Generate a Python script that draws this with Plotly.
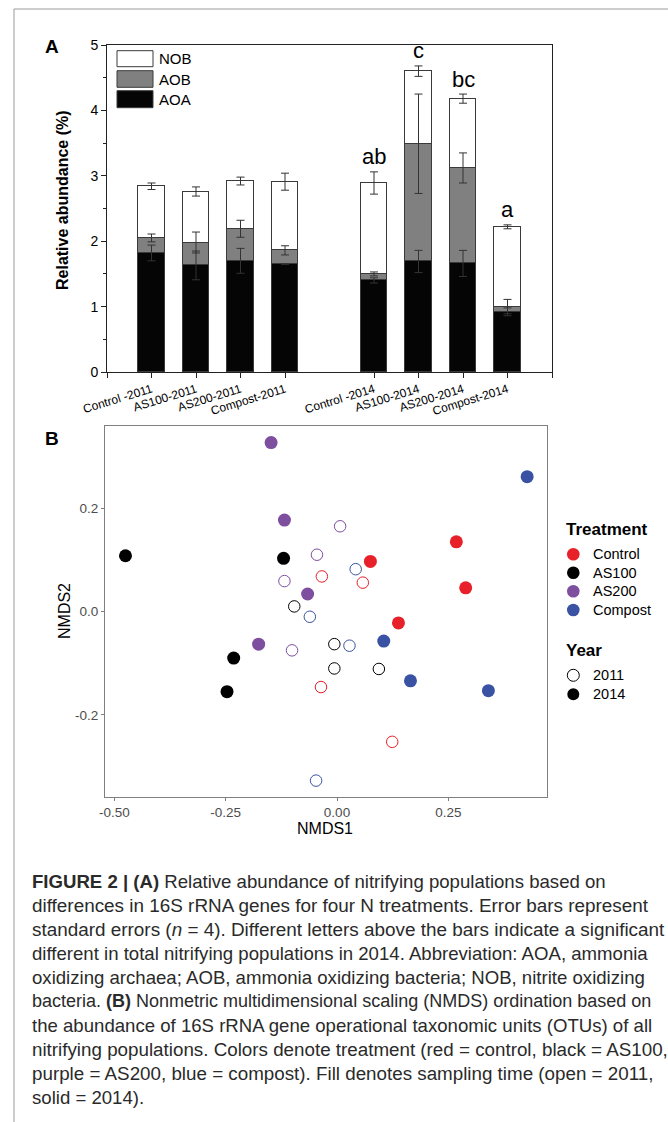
import plotly.graph_objects as go

# ---------------- Panel A data ----------------
categories = ["Control -2011", "AS100-2011", "AS200-2011", "Compost-2011",
              "Control -2014", "AS100-2014", "AS200-2014", "Compost-2014"]
cat_pos = [1, 2, 3, 4, 6, 7, 8, 9]
aoa = [1.82, 1.63, 1.70, 1.65, 1.40, 1.69, 1.66, 0.92]
aob = [0.23, 0.35, 0.49, 0.21, 0.10, 1.80, 1.46, 0.08]
nob = [0.79, 0.78, 0.73, 1.05, 1.39, 1.11, 1.06, 1.22]
aoa_err = [0.12, 0.22, 0.19, 0.00, 0.04, 0.17, 0.20, 0.06]
aob_err = [0.06, 0.16, 0.13, 0.07, 0.03, 0.76, 0.23, 0.11]
nob_err = [0.05, 0.07, 0.06, 0.13, 0.17, 0.08, 0.07, 0.03]
letters = ["", "", "", "", "ab", "c", "bc", "a"]

# ---------------- Panel B data ----------------
nmds_treatment = (["Control"] * 8 + ["AS100"] * 8 + ["AS200"] * 8 + ["Compost"] * 8)
nmds_year = ([2011] * 4 + [2014] * 4) * 4
nmds1 = [-0.034, 0.058, -0.036, 0.124, 0.075, 0.268, 0.289, 0.138,
         -0.096, -0.006, -0.006, 0.094, -0.475, -0.120, -0.232, -0.247,
         0.007, -0.045, -0.118, -0.101, -0.148, -0.118, -0.066, -0.176,
         0.042, -0.061, 0.028, -0.047, 0.427, 0.105, 0.165, 0.340]
nmds2 = [0.068, 0.056, -0.146, -0.252, 0.097, 0.135, 0.046, -0.022,
         0.010, -0.063, -0.110, -0.111, 0.108, 0.103, -0.090, -0.155,
         0.165, 0.110, 0.059, -0.075, 0.327, 0.177, 0.034, -0.063,
         0.082, -0.010, -0.066, -0.327, 0.261, -0.057, -0.134, -0.153]
treatments = ["Control", "AS100", "AS200", "Compost"]
years = [2011, 2014]
treat_colors = {"Control": "#E8202A", "AS100": "#000000",
                "AS200": "#7E4E9F", "Compost": "#3A52A3"}

caption_lines = [
    "<b>FIGURE 2 | (A)</b> Relative abundance of nitrifying populations based on",
    "differences in 16S rRNA genes for four N treatments. Error bars represent",
    "standard errors (<i>n</i> = 4). Different letters above the bars indicate a significant",
    "different in total nitrifying populations in 2014. Abbreviation: AOA, ammonia",
    "oxidizing archaea; AOB, ammonia oxidizing bacteria; NOB, nitrite oxidizing",
    "bacteria. <b>(B)</b> Nonmetric multidimensional scaling (NMDS) ordination based on",
    "the abundance of 16S rRNA gene operational taxonomic units (OTUs) of all",
    "nitrifying populations. Colors denote treatment (red = control, black = AS100,",
    "purple = AS200, blue = compost). Fill denotes sampling time (open = 2011,",
    "solid = 2014).",
]
# per-line font size (styling) so each line fits the page like the reference
caption_sizes = [18.6, 18.9, 18.9, 18.6, 18.6, 18.0, 18.6, 18.8, 18.8, 18.6]

W, H = 668, 1122
def PX(px):
    return px / W
def PY(py):
    return 1 - py / H

FONT = "Liberation Sans, Arial, sans-serif"
fig = go.Figure()

# ---- stacked bars ----
edge = dict(color="#3a3a3a", width=1)
fig.add_trace(go.Bar(x=cat_pos, y=aoa, width=0.6, marker=dict(color="#050505", line=edge),
                     name="AOA", xaxis="x", yaxis="y", showlegend=False))
fig.add_trace(go.Bar(x=cat_pos, y=aob, width=0.6, marker=dict(color="#808080", line=edge),
                     name="AOB", xaxis="x", yaxis="y", showlegend=False))
fig.add_trace(go.Bar(x=cat_pos, y=nob, width=0.6, marker=dict(color="#ffffff", line=edge),
                     name="NOB", xaxis="x", yaxis="y", showlegend=False))

cum1 = aoa
cum2 = [a + b for a, b in zip(aoa, aob)]
cum3 = [a + b + c for a, b, c in zip(aoa, aob, nob)]
for tops, errs in [(cum1, aoa_err), (cum2, aob_err), (cum3, nob_err)]:
    fig.add_trace(go.Scatter(
        x=cat_pos, y=tops, mode="markers", marker=dict(opacity=0, size=1),
        error_y=dict(type="data", array=errs, visible=True, color="#333333",
                     thickness=1, width=4),
        xaxis="x", yaxis="y", showlegend=False, hoverinfo="skip"))

# ---- NMDS scatter ----
for t in treatments:
    for yr in years:
        xs = [x for x, tt, yy in zip(nmds1, nmds_treatment, nmds_year) if tt == t and yy == yr]
        ys = [y for y, tt, yy in zip(nmds2, nmds_treatment, nmds_year) if tt == t and yy == yr]
        col = treat_colors[t]
        if yr == 2014:
            mk = dict(symbol="circle", size=13, color=col, line=dict(width=0))
        else:
            mk = dict(symbol="circle", size=11.5, color="rgba(255,255,255,0)",
                      line=dict(color=col, width=1))
        fig.add_trace(go.Scatter(x=xs, y=ys, mode="markers", marker=mk,
                                 xaxis="x2", yaxis="y2", showlegend=False,
                                 name=f"{t} {yr}"))

annotations = []
shapes = []

def ann(x, y, text, size, xanchor="center", yanchor="middle", angle=0, color="#000"):
    annotations.append(dict(x=PX(x), y=PY(y), xref="paper", yref="paper", text=text,
                            showarrow=False, xanchor=xanchor, yanchor=yanchor,
                            textangle=angle,
                            font=dict(size=size, color=color, family=FONT)))

# letters above 2014 bars
for xp, top, e, lab in zip(cat_pos, cum3, nob_err, letters):
    if lab:
        annotations.append(dict(x=xp, y=top + e, xref="x", yref="y", text=lab,
                                showarrow=False, xanchor="center", yanchor="middle",
                                yshift=15, font=dict(size=22, color="#000", family=FONT)))

# panel A legend
leg_rows = [("NOB", "#ffffff", 50.7, 66.7), ("AOB", "#808080", 70.7, 87.3),
            ("AOA", "#050505", 90.7, 107.7)]
for lab, col, y0, y1 in leg_rows:
    shapes.append(dict(type="rect", xref="paper", yref="paper",
                       x0=PX(117), x1=PX(153), y0=PY(y1), y1=PY(y0),
                       fillcolor=col, line=dict(color="#3a3a3a", width=1)))
    ann(157, (y0 + y1) / 2, lab, 15, xanchor="left")

# panel labels
ann(52, 47, "<b>A</b>", 19)
ann(52, 438, "<b>B</b>", 19)

# axis titles
ann(63, 200, "<b>Relative abundance (%)</b>", 16, angle=-90)
ann(325, 828, "NMDS1", 16)
ann(64, 611, "NMDS2", 16, angle=-90)

# panel B legend
ann(564, 529, "<b>Treatment</b>", 17, xanchor="left")
for t, yc in zip(treatments, [554.3, 572.7, 591.3, 610]):
    shapes.append(dict(type="circle", xref="paper", yref="paper",
                       xsizemode="pixel", ysizemode="pixel",
                       xanchor=PX(573.3), yanchor=PY(yc),
                       x0=-6.3, x1=6.3, y0=-6.3, y1=6.3,
                       fillcolor=treat_colors[t], line=dict(width=0)))
    ann(591, yc, t, 14.5, xanchor="left")
ann(564, 650, "<b>Year</b>", 17, xanchor="left")
for yr, yc in zip(years, [675.3, 694.3]):
    filled = yr == 2014
    shapes.append(dict(type="circle", xref="paper", yref="paper",
                       xsizemode="pixel", ysizemode="pixel",
                       xanchor=PX(573.3), yanchor=PY(yc),
                       x0=-6, x1=6, y0=-6, y1=6,
                       fillcolor="#000" if filled else "#fff",
                       line=dict(width=0 if filled else 1, color="#000")))
    ann(591, yc, str(yr), 14.5, xanchor="left")

# caption
for i, (line, sz) in enumerate(zip(caption_lines, caption_sizes)):
    ann(30, 881 + 24 * i, line, sz, xanchor="left", color="#2a2a2a")

# outer frame
shapes.append(dict(type="rect", xref="paper", yref="paper",
                   x0=PX(14), x1=PX(700), y0=PY(1140), y1=PY(9),
                   line=dict(color="#9a9a9a", width=1), fillcolor="rgba(0,0,0,0)"))

fig.update_layout(
    width=W, height=H,
    margin=dict(l=0, r=0, t=0, b=0, pad=0, autoexpand=False),
    paper_bgcolor="white", plot_bgcolor="white",
    barmode="stack", bargap=0,
    showlegend=False,
    font=dict(family=FONT, color="#000"),
    xaxis=dict(domain=[PX(107), PX(552)], anchor="y", range=[0, 10], automargin=False,
               tickvals=[0] + cat_pos + [10], ticktext=[""] + categories + [""],
               tickangle=-17, tickfont=dict(size=12, color="#000"),
               ticks="outside", ticklen=5, tickcolor="#222", tickwidth=1,
               showline=True, linecolor="#222", linewidth=1, mirror=True,
               showgrid=False, zeroline=False, fixedrange=True),
    yaxis=dict(domain=[PY(372), PY(45)], anchor="x", range=[0, 5], automargin=False,
               tickvals=[0, 1, 2, 3, 4, 5], tickfont=dict(size=14, color="#000"),
               ticks="outside", ticklen=5, tickcolor="#222", tickwidth=1,
               minor=dict(dtick=0.5, tick0=0, ticks="outside", ticklen=3, tickcolor="#222"),
               showline=True, linecolor="#222", linewidth=1, mirror=True,
               showgrid=False, zeroline=False),
    xaxis2=dict(domain=[PX(105), PX(547)], anchor="y2", range=[-0.521, 0.4716],
                automargin=False,
                tickvals=[-0.5, -0.25, 0, 0.25], ticktext=["-0.50", "-0.25", "0.00", "0.25"],
                tickfont=dict(size=13.5, color="#4d4d4d"),
                ticks="outside", ticklen=3, tickcolor="#7f7f7f",
                showline=True, linecolor="#7f7f7f", linewidth=1, mirror=True,
                showgrid=False, zeroline=False),
    yaxis2=dict(domain=[PY(797), PY(426)], anchor="x2", range=[-0.3587, 0.359],
                automargin=False,
                tickvals=[-0.2, 0, 0.2], ticktext=["-0.2", "0.0", "0.2"],
                tickfont=dict(size=13.5, color="#4d4d4d"),
                ticks="outside", ticklen=3, tickcolor="#7f7f7f",
                showline=True, linecolor="#7f7f7f", linewidth=1, mirror=True,
                showgrid=False, zeroline=False),
    annotations=annotations,
    shapes=shapes,
)

fig.write_html("out.html")
